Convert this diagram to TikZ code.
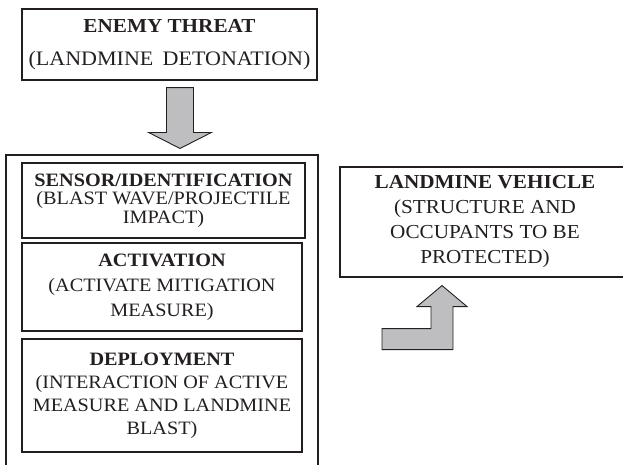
\documentclass[tikz,border=0pt]{standalone}
\usepackage{fontspec}
\setmainfont{Liberation Serif}[FakeStretch=1.07]
\usetikzlibrary{calc}
\definecolor{ink}{RGB}{35,31,32}
\definecolor{arrowfill}{RGB}{190,190,192}
\begin{document}
\begin{tikzpicture}[x=1pt,y=-1pt,
  box/.style={draw=ink, line width=1.1pt, align=center, text=ink, inner sep=0pt},
  blockarrow/.style={draw=ink, line width=0.9pt, fill=arrowfill, line join=miter}]
\useasboundingbox (0,0) rectangle (623,464);
\clip (0,0) rectangle (623,464);

% threat source
\node[box, minimum width=295pt, minimum height=71pt,
      font=\fontsize{19.8}{33}\selectfont] (threat) at (169.5,44.5)
  {\textbf{ENEMY THREAT}\\{\fontsize{20.6}{33}\selectfont(LANDMINE\hspace{0.45em}DETONATION)}};

% active protection system (open at the bottom edge of the page)
\node[box, minimum width=312pt, minimum height=320pt] (system) at (162,315) {};

\node[box, minimum width=283pt, minimum height=75pt,
      font=\fontsize{18.9}{18.7}\selectfont] (sensor) at (163.5,200.5)
  {\textbf{SENSOR/IDENTIFICATION}\\(BLAST WAVE/PROJECTILE\\IMPACT)};

\node[box, minimum width=280pt, minimum height=88pt,
      font=\fontsize{18.9}{25}\selectfont] (activation) at (162,287)
  {\textbf{ACTIVATION}\\(ACTIVATE MITIGATION\\MEASURE)};

\node[box, minimum width=280pt, minimum height=113pt,
      font=\fontsize{18.9}{23}\selectfont] (deployment) at (162,395.5)
  {\textbf{DEPLOYMENT}\\(INTERACTION OF ACTIVE\\MEASURE AND LANDMINE\\BLAST)};

% protected vehicle
\node[box, minimum width=290pt, minimum height=110pt,
      font=\fontsize{19.8}{25}\selectfont] (vehicle) at (485,222)
  {\textbf{LANDMINE VEHICLE}\\(STRUCTURE AND\\OCCUPANTS TO BE\\PROTECTED)};

% block arrow: threat -> system
\coordinate (dnTop) at ($(threat.south)+(10.5,7)$);
\coordinate (dnTip) at ($(system.north)+(18,-6)$);
\draw[blockarrow] ($(dnTop)+(-13.5,0)$) -- ($(dnTip)+(-13.5,-16)$)
  -- ($(dnTip)+(-31.5,-16)$) -- (dnTip) -- ($(dnTip)+(31.5,-16)$)
  -- ($(dnTip)+(13.5,-16)$) -- ($(dnTop)+(13.5,0)$) -- cycle;

% bent block arrow pointing up to the vehicle
\coordinate (upTip) at ($(vehicle.south)+(-43,8)$);
\draw[blockarrow] ($(upTip)+(-60,43)$) -- ($(upTip)+(-11,43)$)
  -- ($(upTip)+(-11,21)$) -- ($(upTip)+(-25,21)$) -- (upTip)
  -- ($(upTip)+(25,21)$) -- ($(upTip)+(11,21)$) -- ($(upTip)+(11,64)$)
  -- ($(upTip)+(-60,64)$) -- cycle;
\end{tikzpicture}
\end{document}
